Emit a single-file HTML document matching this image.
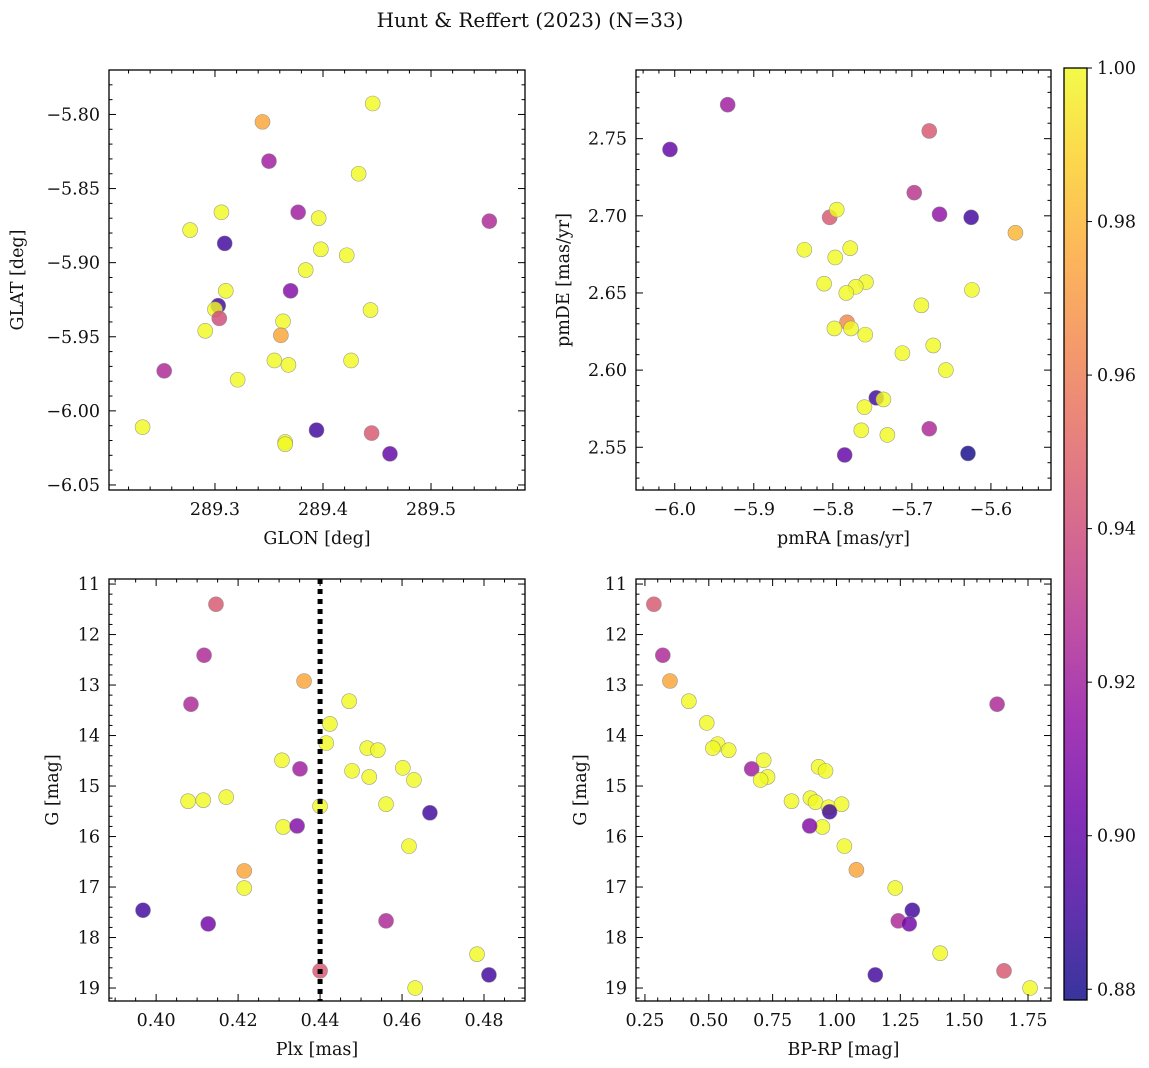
<!DOCTYPE html>
<html><head><meta charset="utf-8">
<style>
html,body{margin:0;padding:0;background:#fff;}
svg{display:block;font-family:"DejaVu Serif","Liberation Serif",serif;}
</style></head>
<body>
<svg id="fig" width="1149" height="1068" viewBox="0 0 1149 1068" xmlns="http://www.w3.org/2000/svg">
<text x="530" y="27" font-size="20" text-anchor="middle" fill="#111">Hunt &amp; Reffert (2023) (N=33)</text>
</svg>
<script>
// ---- data ----
const glon = [289.446,289.344,289.350,289.433,289.277,289.306,289.377,289.396,289.309,289.398,289.422,289.384,289.370,289.310,289.303,289.300,289.304,289.444,289.363,289.291,289.361,289.355,289.368,289.426,289.321,289.253,289.233,289.394,289.445,289.365,289.365,289.462,289.554];
const glat = [-5.7926,-5.805,-5.8315,-5.840,-5.878,-5.866,-5.866,-5.870,-5.887,-5.891,-5.895,-5.905,-5.919,-5.919,-5.929,-5.9315,-5.9376,-5.932,-5.9396,-5.946,-5.949,-5.966,-5.969,-5.966,-5.979,-5.973,-6.011,-6.013,-6.015,-6.021,-6.0225,-6.029,-5.872];
const prob1 = [1,0.975,0.92,1,1,1,0.92,1,0.89,1,1,1,0.91,1,0.89,1,0.94,1,1,1,0.975,1,1,1,1,0.925,1,0.89,0.945,1,1,0.90,0.925];

const pmra = [-5.933,-6.006,-5.678,-5.697,-5.665,-5.625,-5.804,-5.795,-5.569,-5.836,-5.778,-5.797,-5.811,-5.758,-5.771,-5.783,-5.624,-5.688,-5.782,-5.798,-5.777,-5.759,-5.673,-5.712,-5.657,-5.745,-5.736,-5.760,-5.764,-5.731,-5.678,-5.785,-5.629];
const pmde = [2.772,2.743,2.755,2.715,2.701,2.699,2.699,2.704,2.689,2.678,2.679,2.673,2.656,2.657,2.654,2.650,2.652,2.642,2.631,2.627,2.627,2.623,2.616,2.611,2.600,2.582,2.581,2.576,2.561,2.558,2.562,2.545,2.546];
const prob2 = [0.92,0.90,0.945,0.93,0.915,0.89,0.945,1,0.98,1,1,1,1,1,1,1,1,1,0.965,1,1,1,1,1,1,0.89,1,1,1,1,0.925,0.90,0.88];

const plx = [0.4146,0.4117,0.4085,0.4361,0.4471,0.4424,0.4415,0.4515,0.4541,0.4307,0.4351,0.4478,0.4602,0.4520,0.4629,0.4078,0.4115,0.4171,0.44,0.4561,0.4668,0.4310,0.4344,0.4617,0.4215,0.4215,0.3968,0.4127,0.4561,0.4783,0.44,0.4812,0.4632];
const gmag3 = [11.40,12.41,13.38,12.92,13.32,13.77,14.15,14.25,14.29,14.49,14.66,14.70,14.64,14.82,14.88,15.30,15.28,15.22,15.40,15.36,15.53,15.81,15.79,16.19,16.68,17.02,17.46,17.73,17.67,18.33,18.66,18.74,19.00];
const prob3 = [0.945,0.925,0.925,0.975,1,1,1,1,1,1,0.92,1,1,1,1,1,1,1,1,1,0.89,1,0.91,1,0.975,1,0.89,0.905,0.925,1,0.945,0.89,1];
const plxRef = [0.44];

const bprp = [0.285,0.320,0.348,0.422,0.492,0.535,0.516,0.578,0.715,0.668,0.730,0.703,0.930,0.957,0.824,0.898,0.918,0.969,1.020,0.973,0.945,0.895,1.031,1.078,1.230,1.297,1.242,1.285,1.629,1.406,1.656,1.152,1.758];
const gmag4 = [11.40,12.41,12.92,13.32,13.75,14.17,14.25,14.29,14.49,14.66,14.82,14.88,14.62,14.70,15.30,15.24,15.32,15.42,15.36,15.51,15.81,15.79,16.19,16.66,17.02,17.46,17.67,17.73,13.38,18.31,18.66,18.74,19.00];
const prob4 = [0.945,0.925,0.975,1,1,1,1,1,1,0.92,1,1,1,1,1,1,1,1,1,0.89,1,0.91,1,0.975,1,0.89,0.925,0.905,0.925,1,0.945,0.89,1];

const cbTicks = [0.88,0.90,0.92,0.94,0.96,0.98,1.00];

// ---- helpers ----
const NS = "http://www.w3.org/2000/svg";
const svg = document.getElementById('fig');
const FS = 17.5;
function mk(tag, attrs, parent){
  const e = document.createElementNS(NS, tag);
  for (const k in attrs) e.setAttribute(k, attrs[k]);
  (parent||svg).appendChild(e);
  return e;
}
const plasma = [[13,8,135],[65,4,157],[106,0,168],[143,13,164],[177,42,144],[204,71,120],[225,100,98],[242,132,75],[252,166,54],[252,206,37],[240,249,33]];
const PMIN = 0.8786, PMAX = 1.0;
function cmap(v){
  let t = (v-PMIN)/(PMAX-PMIN); t = Math.max(0,Math.min(1,t));
  const f = t*10, i = Math.min(9, Math.floor(f)), r = f-i;
  const a = plasma[i], b = plasma[i+1];
  return 'rgb('+[0,1,2].map(k=>Math.round(a[k]+(b[k]-a[k])*r)).join(',')+')';
}
function fmt(v, d){ const s = Math.abs(v).toFixed(d); return (v < -1e-9 ? '\u2212' : '') + s; }

function panel(cfg){
  const g = mk('g', {});
  
  
  const L=cfg.L, R=cfg.R, T=cfg.T, B=cfg.B;
  const sx = v => L + (v-cfg.x0)/(cfg.x1-cfg.x0)*(R-L);
  const sy = cfg.inv ? (v => T + (v-cfg.y0)/(cfg.y1-cfg.y0)*(B-T)) : (v => B - (v-cfg.y0)/(cfg.y1-cfg.y0)*(B-T));
  const pg = mk('g', {}, g);
  
  
  for (let i=0;i<cfg.xs.length;i++){
    const c = mk('circle', {cx:sx(cfg.xs[i]), cy:sy(cfg.ys[i]), r:7.5, fill:cmap(cfg.ps[i]), 'fill-opacity':0.82, stroke:'#888', 'stroke-width':0.6, 'stroke-opacity':0.8}, pg);
    
    
  }
  if (cfg.vline){
    for (const v of cfg.vline){
      const ln = mk('line', {x1:sx(v), x2:sx(v), y1:T, y2:B, stroke:'#000', 'stroke-width':5, 'stroke-dasharray':'5,5'}, g);
      
      
    }
  }
  const tg = mk('g', {stroke:'#000', 'stroke-width':1}, g);
  
  
  const eps = 1e-9;
  for (let v = Math.ceil((cfg.x0)/cfg.xmin - eps)*cfg.xmin; v <= cfg.x1+eps; v += cfg.xmin){
    const x = sx(v);
    const major = Math.abs(v/cfg.xmaj - Math.round(v/cfg.xmaj)) < 1e-4;
    const len = major?7:3.5;
    mk('line',{x1:x,x2:x,y1:B,y2:B-len},tg); mk('line',{x1:x,x2:x,y1:T,y2:T+len},tg);
    if (major){
      const t = mk('text',{x:x,y:B+25,'font-size':FS,'text-anchor':'middle',fill:'#111',stroke:'none'},g);
      t.textContent = fmt(v, cfg.xd);
      
      
    }
  }
  for (let v = Math.ceil(Math.min(cfg.y0,cfg.y1)/cfg.ymin - eps)*cfg.ymin; v <= Math.max(cfg.y0,cfg.y1)+eps; v += cfg.ymin){
    const y = sy(v);
    const major = Math.abs(v/cfg.ymaj - Math.round(v/cfg.ymaj)) < 1e-4;
    const len = major?7:3.5;
    mk('line',{x1:L,x2:L+len,y1:y,y2:y},tg); mk('line',{x1:R,x2:R-len,y1:y,y2:y},tg);
    if (major){
      const t = mk('text',{x:L-9,y:y+6,'font-size':FS,'text-anchor':'end',fill:'#111',stroke:'none'},g);
      t.textContent = fmt(v, cfg.yd);
      
      
    }
  }
  const fr = mk('rect',{x:L,y:T,width:R-L,height:B-T,fill:'none',stroke:'#000','stroke-width':1.3},g);
  
  
  const xl = mk('text',{x:(L+R)/2,y:B+54,'font-size':FS,'text-anchor':'middle',fill:'#111'},g);
  xl.textContent = cfg.xlabel;
  
  
  const yx = cfg.ylx, yy = (T+B)/2;
  const yl = mk('text',{x:yx,y:yy,'font-size':FS,'text-anchor':'middle',fill:'#111',transform:'rotate(-90 '+yx+' '+yy+')'},g);
  yl.textContent = cfg.ylabel;
  
  
}

panel({name:'glon-glat-panel',L:109,R:525,T:70,B:490,x0:289.2019,x1:289.587,y0:-6.0534,y1:-5.770,inv:false,
  xmaj:0.1,xmin:0.02,xd:1,ymaj:0.05,ymin:0.01,yd:2,xs:glon,ys:glat,ps:prob1,xlabel:'GLON [deg]',ylabel:'GLAT [deg]',ylx:23});
panel({name:'proper-motion-panel',L:636,R:1051,T:70,B:490,x0:-6.049,x1:-5.524,y0:2.5223,y1:2.7945,inv:false,
  xmaj:0.1,xmin:0.02,xd:1,ymaj:0.05,ymin:0.01,yd:2,xs:pmra,ys:pmde,ps:prob2,xlabel:'pmRA [mas/yr]',ylabel:'pmDE [mas/yr]',ylx:569});
panel({name:'parallax-g-panel',L:109,R:525,T:579,B:1001,x0:0.3885,x1:0.4900,y0:10.90,y1:19.257,inv:true,
  xmaj:0.02,xmin:0.005,xd:2,ymaj:1,ymin:0.2,yd:0,xs:plx,ys:gmag3,ps:prob3,vline:plxRef,xlabel:'Plx [mas]',ylabel:'G [mag]',ylx:58});
panel({name:'cmd-panel',L:636,R:1051,T:579,B:1001,x0:0.215,x1:1.840,y0:10.90,y1:19.257,inv:true,
  xmaj:0.25,xmin:0.05,xd:2,ymaj:1,ymin:0.2,yd:0,xs:bprp,ys:gmag4,ps:prob4,xlabel:'BP-RP [mag]',ylabel:'G [mag]',ylx:586});

// ---- colorbar ----
const cb = mk('g',{});


const CT=68, CB=1000, CL=1064, CR=1087;
const defs = mk('defs',{},cb);
const grad = mk('linearGradient',{id:'cbg',x1:0,y1:1,x2:0,y2:0},defs);
for (let i=0;i<plasma.length;i++){
  mk('stop',{offset:(i/10),'stop-color':'rgb('+plasma[i].join(',')+')','stop-opacity':0.82},grad);
}
const cbr = mk('rect',{x:CL,y:CT,width:CR-CL,height:CB-CT,fill:'url(#cbg)',stroke:'#000','stroke-width':1.3},cb);


const cy = v => CB - (v-PMIN)/(PMAX-PMIN)*(CB-CT);
for (const v of cbTicks){
  const y = cy(v);
  mk('line',{x1:CR,x2:CR+5,y1:y,y2:y,stroke:'#000','stroke-width':1},cb);
  const t = mk('text',{x:CR+10,y:y+6,'font-size':FS,fill:'#111'},cb);
  t.textContent = v.toFixed(2);
  
  
}
</script>
</body></html>
